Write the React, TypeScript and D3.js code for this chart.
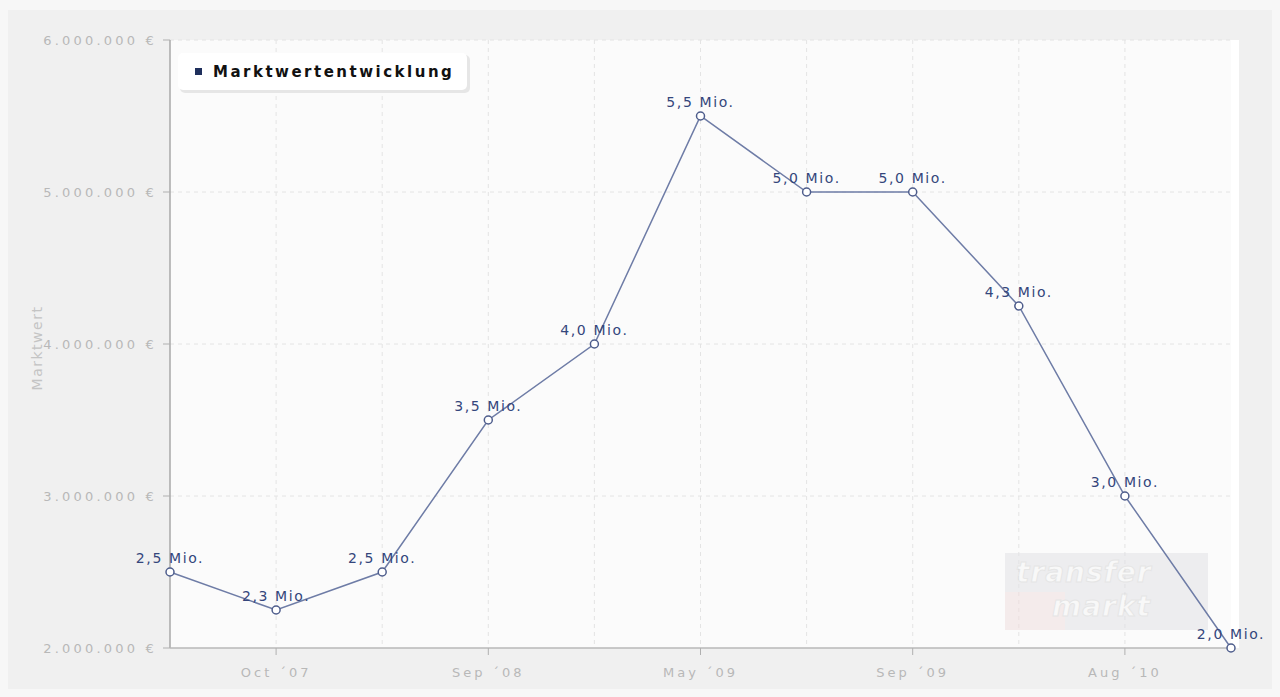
import * as d3 from "d3";
import { useEffect, useRef } from "react";

const width = 1280;
const height = 697;
const margin = { top: 40, right: 49, bottom: 49, left: 170 };

// market value history
const dates = ["Jul 07", "Oct 07", "Feb 08", "Sep 08", "Jan 09", "May 09", "Jul 09", "Sep 09", "Feb 10", "Aug 10", "Jan 11"];
const values = [2500000, 2250000, 2500000, 3500000, 4000000, 5500000, 5000000, 5000000, 4250000, 3000000, 2000000];
const valueLabels = ["2,5 Mio.", "2,3 Mio.", "2,5 Mio.", "3,5 Mio.", "4,0 Mio.", "5,5 Mio.", "5,0 Mio.", "5,0 Mio.", "4,3 Mio.", "3,0 Mio.", "2,0 Mio."];
const xTickLabels = ["", "Oct ´07", "", "Sep ´08", "", "May ´09", "", "Sep ´09", "", "Aug ´10", ""];
const yTicks = [2000000, 3000000, 4000000, 5000000, 6000000];
const yTickLabels = ["2.000.000 €", "3.000.000 €", "4.000.000 €", "5.000.000 €", "6.000.000 €"];

const font = "'DejaVu Sans', Verdana, sans-serif";

export default function App() {
  const svgRef = useRef<SVGSVGElement>(null);

  useEffect(() => {
    const svg = d3.select(svgRef.current);
    svg.selectAll("*").remove();

    const x = d3.scalePoint<string>().domain(dates).range([margin.left, width - margin.right]).padding(0);
    const y = d3.scaleLinear().domain([2000000, 6000000]).range([height - margin.bottom, margin.top]);

    // backgrounds
    svg.append("rect").attr("width", width).attr("height", height).attr("fill", "#f7f7f7");
    svg.append("rect").attr("x", 8).attr("y", 10).attr("width", width - 16).attr("height", height - 18).attr("fill", "#f0f0f0");
    svg.append("rect")
      .attr("x", margin.left).attr("y", margin.top)
      .attr("width", width - margin.left - margin.right + 8)
      .attr("height", height - margin.top - margin.bottom)
      .attr("fill", "#ffffff");
    svg.append("rect")
      .attr("x", margin.left).attr("y", margin.top)
      .attr("width", width - margin.left - margin.right)
      .attr("height", height - margin.top - margin.bottom)
      .attr("fill", "#fbfbfb");

    const y0 = height - margin.bottom;

    // grid
    svg.append("g").selectAll("line").data(yTicks.slice(1)).enter().append("line")
      .attr("x1", margin.left).attr("x2", width - margin.right)
      .attr("y1", d => y(d)).attr("y2", d => y(d))
      .attr("stroke", "#e4e4e4").attr("stroke-dasharray", "4,4");
    svg.append("g").selectAll("line").data(dates.slice(1, -1)).enter().append("line")
      .attr("x1", d => x(d)!).attr("x2", d => x(d)!)
      .attr("y1", margin.top).attr("y2", y0)
      .attr("stroke", "#e4e4e4").attr("stroke-dasharray", "4,4");

    // watermark
    const wm = svg.append("g").attr("opacity", 0.55);
    wm.append("rect").attr("x", 1005).attr("y", 553).attr("width", 203).attr("height", 77).attr("fill", "#e2e2e6");
    wm.append("rect").attr("x", 1005).attr("y", 592).attr("width", 60).attr("height", 38).attr("fill", "#f0dede");
    wm.append("text").attr("x", 1016).attr("y", 582).text("transfer")
      .style("font-family", font).style("font-size", "28px").style("font-weight", "bold").style("font-style", "italic")
      .style("letter-spacing", "1px")
      .attr("fill", "#f6f6f6").attr("stroke", "#d4d4d4");
    wm.append("text").attr("x", 1052).attr("y", 616).text("markt")
      .style("font-family", font).style("font-size", "28px").style("font-weight", "bold").style("font-style", "italic")
      .style("letter-spacing", "1px")
      .attr("fill", "#f6f6f6").attr("stroke", "#d4d4d4");

    // axes
    svg.append("line").attr("x1", margin.left).attr("x2", margin.left).attr("y1", margin.top).attr("y2", y0).attr("stroke", "#a8a8a8").attr("stroke-width", 1.5);
    svg.append("line").attr("x1", margin.left).attr("x2", width - margin.right).attr("y1", y0).attr("y2", y0).attr("stroke", "#b8b8b8").attr("stroke-width", 1.5);

    svg.append("g").selectAll("line").data(yTicks).enter().append("line")
      .attr("x1", margin.left - 7).attr("x2", margin.left).attr("y1", d => y(d)).attr("y2", d => y(d))
      .attr("stroke", "#b0b0b0");
    svg.append("g").selectAll("text").data(yTicks).enter().append("text")
      .attr("x", margin.left - 13).attr("y", d => y(d) + 5)
      .attr("text-anchor", "end")
      .style("font-family", font).style("font-size", "13px").style("letter-spacing", "3.2px")
      .attr("fill", "#b8b8b8")
      .text((d, i) => yTickLabels[i]);

    svg.append("g").selectAll("line").data(dates.filter((d, i) => xTickLabels[i])).enter().append("line")
      .attr("x1", d => x(d)!).attr("x2", d => x(d)!).attr("y1", y0).attr("y2", y0 + 7)
      .attr("stroke", "#b0b0b0");
    svg.append("g").selectAll("text").data(dates).enter().append("text")
      .attr("x", d => x(d)!).attr("y", y0 + 29)
      .attr("text-anchor", "middle")
      .style("font-family", font).style("font-size", "13px").style("letter-spacing", "3px")
      .attr("fill", "#b8b8b8")
      .text((d, i) => xTickLabels[i]);

    svg.append("text")
      .attr("transform", `translate(42, 348) rotate(-90)`)
      .attr("text-anchor", "middle")
      .style("font-family", font).style("font-size", "14px").style("letter-spacing", "1.5px")
      .attr("fill", "#c4c4c4")
      .text("Marktwert");

    // series
    const line = d3.line<number>().x((d, i) => x(dates[i])!).y(d => y(d));
    svg.append("path").datum(values).attr("d", line).attr("fill", "none").attr("stroke", "#6e7ca6").attr("stroke-width", 1.5);

    svg.append("g").selectAll("text").data(values).enter().append("text")
      .attr("x", (d, i) => x(dates[i])!).attr("y", d => y(d) - 9)
      .attr("text-anchor", "middle")
      .style("font-family", font).style("font-size", "14px").style("letter-spacing", "1.6px")
      .attr("fill", "#34467c")
      .text((d, i) => valueLabels[i]);

    svg.append("g").selectAll("circle").data(values).enter().append("circle")
      .attr("cx", (d, i) => x(dates[i])!).attr("cy", d => y(d)).attr("r", 4)
      .attr("fill", "#ffffff").attr("stroke", "#4e5d8c").attr("stroke-width", 1.5);

    // legend
    const lg = svg.append("g");
    lg.append("rect").attr("x", 180).attr("y", 55).attr("width", 290).attr("height", 38).attr("rx", 5)
      .attr("fill", "#e6e6e6");
    lg.append("rect").attr("x", 178).attr("y", 53).attr("width", 289).attr("height", 37).attr("rx", 5)
      .attr("fill", "#ffffff");
    lg.append("rect").attr("x", 195).attr("y", 68).attr("width", 7).attr("height", 7).attr("fill", "#1f2f5c");
    lg.append("text").attr("x", 213).attr("y", 77)
      .style("font-family", font).style("font-size", "15px").style("font-weight", "bold").style("letter-spacing", "2.5px")
      .attr("fill", "#111")
      .text("Marktwertentwicklung");
  }, []);

  return (
    <svg ref={svgRef} width={width} height={height} style={{ position: "absolute", left: 0, top: 0 }} />
  );
}
